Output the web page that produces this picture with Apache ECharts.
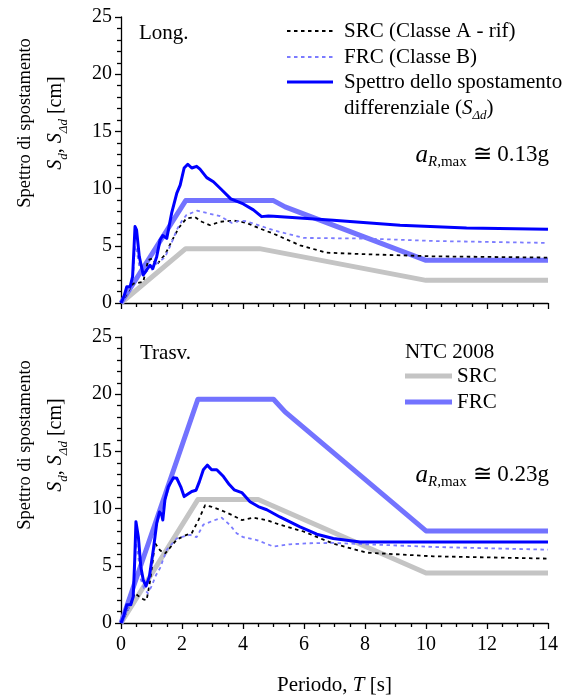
<!DOCTYPE html>
<html>
<head>
<meta charset="utf-8">
<script src="https://cdn.jsdelivr.net/npm/echarts@6/dist/echarts.min.js"></script>
<style>html,body{margin:0;padding:0;background:#fff}#c{width:565px;height:698px}</style>
</head>
<body>
<div id="c"></div>
<script>
// ---------- DATA: Long. (top panel) ----------
const ntcSrcL_T = [0, 2.12, 4.54, 10, 14];
const ntcSrcL_S = [0, 4.75, 4.75, 1.98, 1.98];
const ntcFrcL_T = [0, 2.12, 5.0, 5.38, 10, 14];
const ntcFrcL_S = [0, 8.95, 8.95, 8.4, 3.73, 3.73];
const sadL_T = [0, 0.1, 0.19, 0.3, 0.38, 0.43, 0.46, 0.51, 0.6, 0.73, 0.84, 0.95, 1.04, 1.17, 1.28, 1.37, 1.5, 1.66, 1.83, 1.94, 2.07, 2.19, 2.32, 2.48, 2.59, 2.81, 3.03, 3.3, 3.6, 4.01, 4.34, 4.61, 4.83, 5.0, 6.96, 9.15, 11.33, 14];
const sadL_S = [0, 0.6, 1.43, 1.43, 2.3, 5.0, 6.68, 6.4, 4.05, 2.45, 2.9, 3.3, 3.0, 4.05, 5.5, 5.9, 5.65, 7.85, 9.6, 10.3, 11.8, 12.13, 11.8, 11.95, 11.7, 10.96, 10.6, 9.9, 9.1, 8.66, 8.14, 7.55, 7.6, 7.58, 7.23, 6.79, 6.56, 6.44];
const srcL_T = [0, 0.15, 0.3, 0.4, 0.46, 0.55, 0.73, 0.89, 1.04, 1.17, 1.3, 1.44, 1.66, 1.9, 2.15, 2.43, 2.65, 2.92, 3.25, 3.7, 4.12, 4.56, 5.0, 5.87, 6.74, 8.05, 10.24, 14];
const srcL_S = [0, 0.6, 1.3, 1.7, 1.8, 1.75, 1.85, 3.75, 3.9, 3.3, 3.8, 4.2, 5.4, 6.6, 7.4, 7.5, 7.1, 6.8, 7.1, 7.2, 7.0, 6.5, 6.06, 5.04, 4.4, 4.26, 4.08, 3.97];
const frcL_T = [0, 0.15, 0.3, 0.4, 0.46, 0.52, 0.6, 0.73, 0.85, 1.0, 1.15, 1.3, 1.44, 1.6, 1.71, 1.83, 2.0, 2.15, 2.5, 2.92, 3.25, 3.63, 3.9, 4.12, 4.5, 5.0, 5.98, 8.05, 10.24, 14];
const frcL_S = [0, 0.7, 1.4, 2.6, 5.0, 4.5, 3.2, 2.6, 2.8, 2.9, 3.4, 3.7, 4.0, 4.9, 5.6, 6.4, 7.2, 7.7, 8.07, 7.8, 7.6, 7.0, 7.2, 7.14, 6.8, 6.36, 5.69, 5.63, 5.42, 5.25];

// ---------- DATA: Trasv. (bottom panel) ----------
const ntcSrcT_T = [0, 2.52, 4.5, 10, 14];
const ntcSrcT_S = [0, 10.79, 10.79, 4.37, 4.37];
const ntcFrcT_T = [0, 2.52, 5.0, 5.38, 10, 14];
const ntcFrcT_S = [0, 19.56, 19.56, 18.45, 8.05, 8.05];
const sadT_T = [0, 0.1, 0.19, 0.32, 0.4, 0.45, 0.49, 0.57, 0.65, 0.73, 0.82, 0.93, 1.06, 1.17, 1.26, 1.33, 1.37, 1.44, 1.55, 1.72, 1.83, 1.96, 2.07, 2.32, 2.46, 2.57, 2.7, 2.83, 2.97, 3.14, 3.36, 3.55, 3.71, 3.96, 4.23, 4.5, 4.78, 5.21, 5.87, 6.42, 6.96, 7.84, 10.24, 14];
const sadT_S = [0, 0.7, 1.6, 1.6, 2.3, 5.5, 8.86, 7.5, 4.9, 3.75, 3.23, 4.05, 6.4, 8.7, 9.7, 9.5, 9.0, 10.76, 11.9, 12.7, 12.65, 11.9, 11.05, 11.5, 11.6, 12.36, 13.4, 13.8, 13.4, 13.4, 12.8, 12.1, 11.64, 11.4, 10.6, 10.18, 9.9, 9.27, 8.4, 7.76, 7.38, 7.08, 7.08, 7.08];
const srcT_T = [0, 0.12, 0.3, 0.45, 0.55, 0.73, 0.84, 0.95, 1.05, 1.11, 1.28, 1.44, 1.55, 1.83, 2.15, 2.32, 2.54, 2.76, 2.92, 3.25, 3.63, 3.96, 4.34, 4.77, 5.2, 5.98, 6.96, 8.05, 10.24, 14];
const srcT_S = [0, 0.6, 1.6, 2.6, 2.4, 2.07, 2.0, 3.6, 5.6, 7.0, 6.36, 6.06, 6.4, 7.3, 7.7, 7.85, 9.0, 10.3, 10.2, 9.9, 9.45, 9.0, 9.2, 9.0, 8.6, 8.0, 6.94, 6.15, 5.83, 5.63];
const frcT_T = [0, 0.2, 0.35, 0.43, 0.49, 0.56, 0.65, 0.76, 0.88, 1.0, 1.15, 1.28, 1.5, 1.83, 2.26, 2.48, 2.7, 3.03, 3.3, 3.57, 3.79, 4.01, 4.45, 5.0, 5.54, 6.2, 6.96, 8.05, 10.24, 14];
const frcT_S = [0, 1.0, 1.8, 3.5, 7.0, 6.0, 3.8, 3.0, 2.6, 3.2, 4.2, 4.8, 6.4, 7.4, 7.7, 7.5, 8.6, 8.95, 9.2, 8.57, 7.85, 7.5, 7.25, 6.68, 6.88, 6.97, 7.0, 6.88, 6.65, 6.41];

// ---------- AXES ----------
const xTicks = [0, 2, 4, 6, 8, 10, 12, 14];
const yTicks = [0, 5, 10, 15, 20, 25];

const zip = (t, s) => t.map((v, i) => [v, s[i]]);
const FONT = "'Liberation Serif', 'DejaVu Serif', serif";
const C_GRAY = '#c4c4c4', C_FRC = '#7373ff', C_BLUE = '#0000ff', C_FRCD = '#7b7bff';

function xAxisCfg(gi, showLabels) {
  return {
    type: 'value', gridIndex: gi, min: xTicks[0], max: xTicks[xTicks.length - 1], interval: xTicks[1] - xTicks[0],
    axisLine: { show: true, onZero: false, lineStyle: { color: '#000', width: 1.3 } },
    axisTick: { show: true, inside: false, length: 6, lineStyle: { color: '#000', width: 1.3 } },
    minorTick: { show: true, splitNumber: 4, length: 4, lineStyle: { color: '#000', width: 1.3 } },
    splitLine: { show: false },
    axisLabel: { show: showLabels, margin: 12, color: '#000', fontFamily: FONT, fontSize: 20 },
    name: showLabels ? 'Periodo, {i|T} [s]' : '',
    nameLocation: 'middle', nameGap: 52,
    nameTextStyle: { color: '#000', fontFamily: FONT, fontSize: 21, rich: { i: { fontStyle: 'italic', fontFamily: FONT, fontSize: 21 } } }
  };
}
function yAxisCfg(gi) {
  return {
    type: 'value', gridIndex: gi, min: yTicks[0], max: yTicks[yTicks.length - 1], interval: yTicks[1] - yTicks[0],
    axisLine: { show: true, onZero: false, lineStyle: { color: '#000', width: 1.3 } },
    axisTick: { show: true, inside: false, length: 6, lineStyle: { color: '#000', width: 1.3 } },
    minorTick: { show: true, splitNumber: 5, length: 4, lineStyle: { color: '#000', width: 1.3 } },
    splitLine: { show: false },
    axisLabel: { margin: 9, color: '#000', fontFamily: FONT, fontSize: 20 }
  };
}
function ser(name, t, s, gi, color, width, type, z) {
  return {
    name: name, type: 'line', xAxisIndex: gi, yAxisIndex: gi, data: zip(t, s),
    showSymbol: false, symbol: 'none', z: z, animation: false, smooth: false,
    lineStyle: { color: color, width: width, type: type, cap: 'butt', join: 'round' }
  };
}

const subRich = {
  i: { fontFamily: FONT, fontSize: 21, fontStyle: 'italic', fill: '#000', verticalAlign: 'middle', lineHeight: 28 },
  s: { fontFamily: FONT, fontSize: 13, fontStyle: 'italic', fill: '#000', verticalAlign: 'bottom', lineHeight: 28 },
  n: { fontFamily: FONT, fontSize: 21, fill: '#000', verticalAlign: 'middle', lineHeight: 28 }
};
const subRichY = {
  i: { fontFamily: FONT, fontSize: 20, fontStyle: 'italic', fill: '#000', verticalAlign: 'middle', lineHeight: 28 },
  s: { fontFamily: FONT, fontSize: 13, fontStyle: 'italic', fill: '#000', verticalAlign: 'bottom', lineHeight: 28 },
  n: { fontFamily: FONT, fontSize: 20, fill: '#000', verticalAlign: 'middle', lineHeight: 28 }
};

function yTitle(cy) {
  return [
    { type: 'text', x: 25, y: cy, rotation: Math.PI / 2,
      style: { text: 'Spettro di spostamento', fontFamily: FONT, fontSize: 18.5, fill: '#000', align: 'center', verticalAlign: 'middle' } },
    { type: 'text', x: 56, y: cy, rotation: Math.PI / 2,
      style: { text: '{i|S}{s|d}{n|, }{i|S}{s|Δd}{n| [cm]}', rich: subRichY, align: 'center', verticalAlign: 'middle', fontSize: 20, fontFamily: FONT } }
  ];
}
function txt(x, y, text, size, align) {
  return { type: 'text', x: x, y: y, style: { text: text, fontFamily: FONT, fontSize: size || 21, fill: '#000', align: align || 'left', verticalAlign: 'middle' } };
}
function lin(x1, x2, y, color, width, dash) {
  return { type: 'line', shape: { x1: x1, y1: y, x2: x2, y2: y }, style: { stroke: color, lineWidth: width, lineDash: dash || null } };
}
const aRich = {
  a: { fontFamily: FONT, fontSize: 25, fontStyle: 'italic', fill: '#000', verticalAlign: 'middle', lineHeight: 30 },
  r: { fontFamily: FONT, fontSize: 15, fontStyle: 'italic', fill: '#000', verticalAlign: 'bottom', lineHeight: 30 },
  m: { fontFamily: FONT, fontSize: 15, fill: '#000', verticalAlign: 'bottom', lineHeight: 30 },
  b: { fontFamily: FONT, fontSize: 23, fill: '#000', verticalAlign: 'middle', lineHeight: 30 }
};
function aLabel(y, val) {
  return { type: 'text', x: 549, y: y, style: { text: '{a|a}{r|R}{m|,max}{b| ≅ ' + val + '}', rich: aRich, align: 'right', verticalAlign: 'middle' } };
}

const graphics = [].concat(
  yTitle(123), yTitle(445),
  [
    txt(139, 33, 'Long.', 21),
    txt(140, 353, 'Trasv.', 21),
    lin(287, 333, 31, '#000', 1.8, [3.5, 3.5]),
    lin(287, 333, 57, C_FRCD, 1.8, [3.5, 3.5]),
    lin(287, 333, 82, C_BLUE, 3),
    txt(344, 31, 'SRC (Classe A - rif)', 21),
    txt(344, 57, 'FRC (Classe B)', 21),
    txt(344, 82, 'Spettro dello spostamento', 21),
    { type: 'text', x: 344, y: 108, style: { text: '{n|differenziale (}{i|S}{s|Δd}{n|)}', rich: subRich, align: 'left', verticalAlign: 'middle' } },
    aLabel(155, '0.13g'),
    txt(405, 352, 'NTC 2008', 21),
    lin(405, 452, 376, C_GRAY, 5),
    lin(405, 452, 402, C_FRC, 5),
    txt(457, 376, 'SRC', 21),
    txt(457, 402, 'FRC', 21),
    aLabel(475, '0.23g')
  ]
);

const option = {
  backgroundColor: '#fff',
  animation: false,
  grid: [
    { left: 121, top: 17, width: 427, height: 286, containLabel: false },
    { left: 121, top: 337, width: 427, height: 286, containLabel: false }
  ],
  xAxis: [xAxisCfg(0, false), xAxisCfg(1, true)],
  yAxis: [yAxisCfg(0), yAxisCfg(1)],
  series: [
    ser('NTC SRC', ntcSrcL_T, ntcSrcL_S, 0, C_GRAY, 5, 'solid', 2),
    ser('NTC FRC', ntcFrcL_T, ntcFrcL_S, 0, C_FRC, 5, 'solid', 2),
    ser('SRC (Classe A - rif)', srcL_T, srcL_S, 0, '#000', 1.8, [3.5, 3.5], 3),
    ser('FRC (Classe B)', frcL_T, frcL_S, 0, C_FRCD, 1.8, [3.5, 3.5], 3),
    ser('S_Δd', sadL_T, sadL_S, 0, C_BLUE, 3, 'solid', 4),
    ser('NTC SRC T', ntcSrcT_T, ntcSrcT_S, 1, C_GRAY, 5, 'solid', 2),
    ser('NTC FRC T', ntcFrcT_T, ntcFrcT_S, 1, C_FRC, 5, 'solid', 2),
    ser('SRC T', srcT_T, srcT_S, 1, '#000', 1.8, [3.5, 3.5], 3),
    ser('FRC T', frcT_T, frcT_S, 1, C_FRCD, 1.8, [3.5, 3.5], 3),
    ser('S_Δd T', sadT_T, sadT_S, 1, C_BLUE, 3, 'solid', 4)
  ],
  graphic: graphics
};

const chart = echarts.init(document.getElementById('c'), null, { renderer: 'canvas' });
chart.setOption(option);
</script>
</body>
</html>
